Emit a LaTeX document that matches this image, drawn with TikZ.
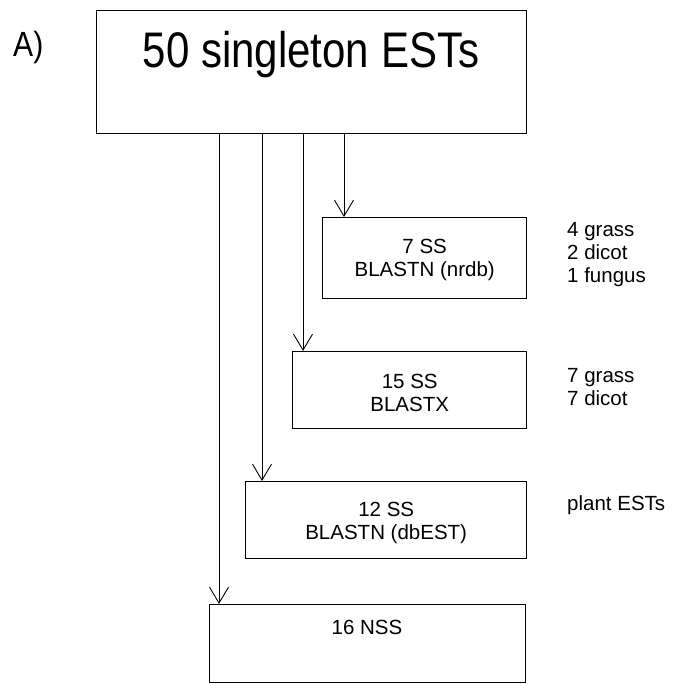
\documentclass[tikz,border=0pt]{standalone}
\usepackage{fontspec}
\setmainfont{Liberation Sans}
\usetikzlibrary{arrows.meta}
\begin{document}
\begin{tikzpicture}[x=1pt,y=-1pt,
  boxnode/.style={draw, line width=1.4pt, anchor=north west, inner sep=0pt},
  arr/.style={line width=0.9pt, -{Straight Barb[length=16pt,width=19pt,line width=0.9pt]}},
  small/.style={font=\fontsize{20.5}{23}\selectfont, align=center, inner sep=0pt},
  side/.style={font=\fontsize{20.5}{23}\selectfont, align=left, anchor=west, inner sep=0pt}]
\useasboundingbox (0,0) rectangle (678,684);
\node[boxnode, minimum width=430pt, minimum height=123pt] (top) at (96,10) {};
\node[font=\fontsize{50}{56}\selectfont, inner sep=0pt, anchor=base] (toptext) at (311,68) {\scalebox{0.84}[1]{50 singleton ESTs}};
\node[font=\fontsize{35}{40}\selectfont, inner sep=0pt, anchor=base west] (lab) at (13,57) {\scalebox{0.86}[1]{A)}};
\node[boxnode, minimum width=204pt, minimum height=81pt] (b1) at (322,217) {};
\node[boxnode, minimum width=234pt, minimum height=77pt] (b2) at (292,351) {};
\node[boxnode, minimum width=281pt, minimum height=77pt] (b3) at (245,481) {};
\node[boxnode, minimum width=316pt, minimum height=78pt] (b4) at (209,604) {};
\node[small] (t1) at ([yshift=-2pt]b1.center) {7 SS\\BLASTN (nrdb)};
\node[small] (t2) at ([yshift=-3pt]b2.center) {15 SS\\BLASTX};
\node[small] (t3) at ([yshift=-3pt]b3.center) {12 SS\\BLASTN (dbEST)};
\node[small] (t4) at (367,627) {16 NSS};
\node[side] (s1) at (567,255) {4 grass\\2 dicot\\1 fungus};
\node[side] (s2) at (567,387) {7 grass\\7 dicot};
\node[side] (s3) at (567,505) {plant ESTs};
\coordinate (a1) at (344,133);
\coordinate (a2) at (303,133);
\coordinate (a3) at (262,133);
\coordinate (a4) at (219,133);
\draw[arr] (a1) -- (a1 |- b1.north);
\draw[arr] (a2) -- (a2 |- b2.north);
\draw[arr] (a3) -- (a3 |- b3.north);
\draw[arr] (a4) -- (a4 |- b4.north);
\end{tikzpicture}
\end{document}
